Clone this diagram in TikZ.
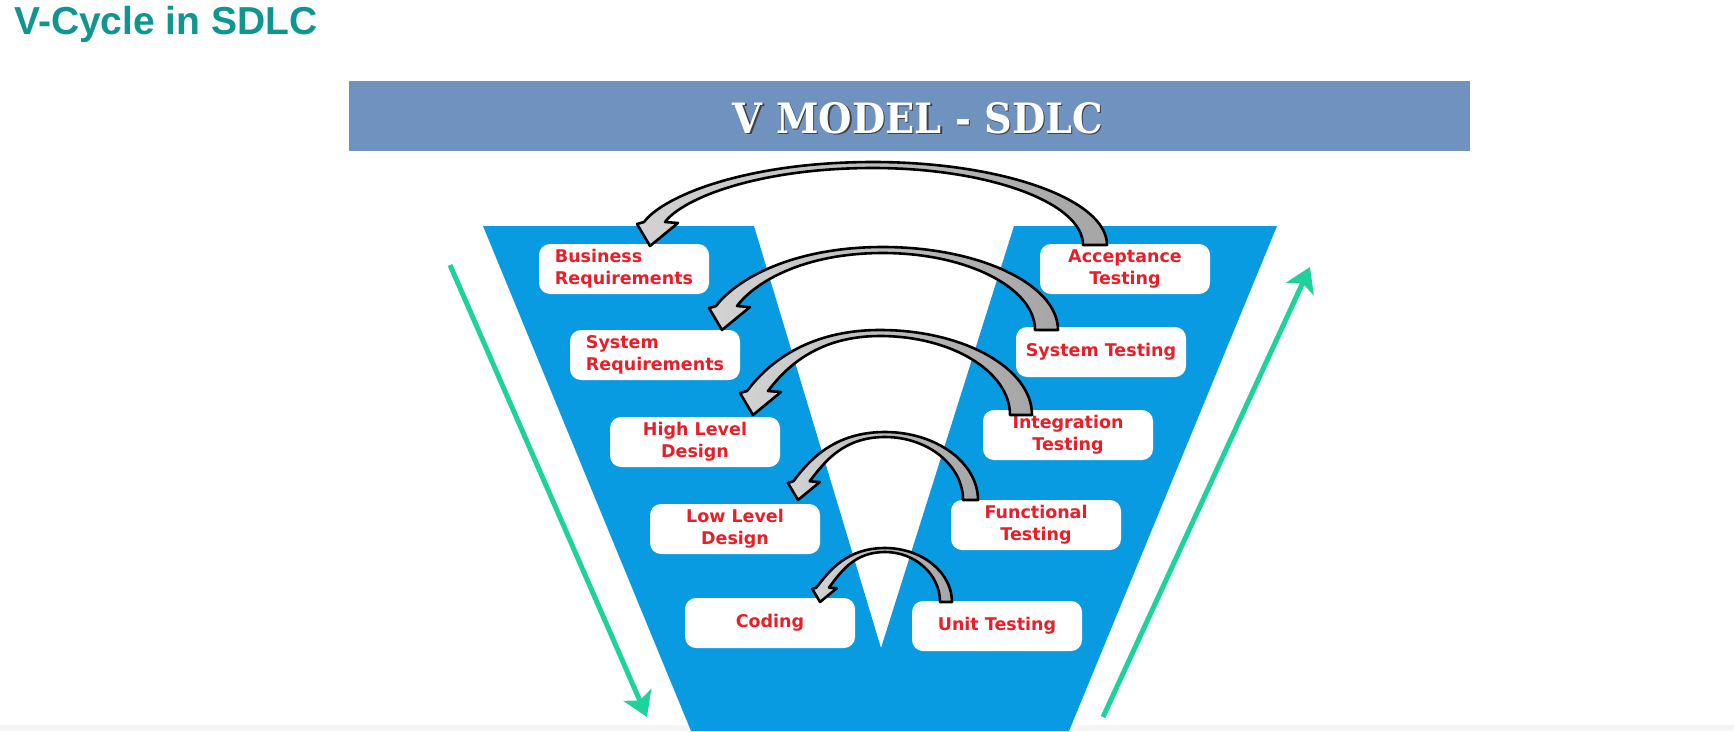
\documentclass[tikz,border=0pt]{standalone}
\usepackage{fontspec}
\usepackage{graphicx}
\usetikzlibrary{arrows.meta}
\newfontfamily\titlefont{Liberation Sans}
\newfontfamily\boxfont{DejaVu Sans}
\newfontfamily\bannerfont{DejaVu Serif}
\definecolor{titleteal}{RGB}{15,150,145}
\definecolor{bannerblue}{RGB}{112,146,190}
\definecolor{vblue}{RGB}{9,155,226}
\definecolor{boxred}{RGB}{232,30,40}
\definecolor{mint}{RGB}{30,210,155}
\tikzset{
  phasebox/.style={fill=white, rounded corners=11pt, minimum width=170pt, minimum height=50pt,
    inner sep=0pt, text=boxred, align=center,
    font=\boxfont\bfseries\fontsize{17.5}{22}\selectfont},
  grayarrow/.style={draw=black, line width=2.6pt, line join=round, left color=gray!35, right color=gray!70},
  greenarrow/.style={draw=mint, line width=5pt, -{Stealth[length=24pt,width=30pt,inset=6pt]}}
}
% #1 tail outer x, #2 tail inner x, #3 tail y, #4 apex x, #5 apex y, #6 tip x, #7 tip y, #8 head scale, #9 apex thickness
\newcommand{\garrow}[9]{%
 \pgfmathsetmacro{\gaOex}{#6-6*#8}%
 \pgfmathsetmacro{\gaOey}{#7-24*#8}%
 \pgfmathsetmacro{\gaIex}{#6+15*#8}%
 \pgfmathsetmacro{\gaIey}{#7-24*#8}%
 \pgfmathsetmacro{\gaAiy}{#5+#9}%
 \pgfmathsetmacro{\gaCA}{#3-0.55*(#3-#5)}%
 \pgfmathsetmacro{\gaCB}{#4+0.55*(#1-#4)}%
 \pgfmathsetmacro{\gaCC}{#4-0.55*(#4-\gaOex)}%
 \pgfmathsetmacro{\gaDD}{0.55*(\gaOey-#5)}%
 \pgfmathsetmacro{\gaCDx}{\gaOex+0.6*\gaDD}%
 \pgfmathsetmacro{\gaCDy}{\gaOey-0.8*\gaDD}%
 \pgfmathsetmacro{\gaDI}{0.55*(\gaIey-\gaAiy)}%
 \pgfmathsetmacro{\gaCEx}{\gaIex+0.6*\gaDI}%
 \pgfmathsetmacro{\gaCEy}{\gaIey-0.8*\gaDI}%
 \pgfmathsetmacro{\gaCF}{#4-0.55*(#4-\gaIex)}%
 \pgfmathsetmacro{\gaCG}{#4+0.55*(#2-#4)}%
 \pgfmathsetmacro{\gaCH}{#3-0.55*(#3-\gaAiy)}%
 \path[grayarrow] (#1,#3) .. controls (#1,\gaCA) and (\gaCB,#5) .. (#4,#5)
   .. controls (\gaCC,#5) and (\gaCDx,\gaCDy) .. (\gaOex,\gaOey)
   -- ({#6-13*#8},{#7-22*#8}) -- (#6,#7) -- ({#6+28*#8},{#7-23*#8}) -- (\gaIex,\gaIey)
   .. controls (\gaCEx,\gaCEy) and (\gaCF,\gaAiy) .. (#4,\gaAiy)
   .. controls (\gaCG,\gaAiy) and (#2,\gaCH) .. (#2,#3) -- cycle;
}
\begin{document}
\begin{tikzpicture}[x=1pt,y=-1pt]
\useasboundingbox (0,0) rectangle (1734,731);
\fill[white] (0,0) rectangle (1734,731);
\fill[gray!8] (0,725) rectangle (1734,731);

% title
\node[anchor=base west, inner sep=0pt, text=titleteal] (title) at (14,34)
  {\titlefont\bfseries\fontsize{39}{39}\selectfont V-Cycle in SDLC};

% banner
\fill[bannerblue] (349,81) rectangle (1470,151);
\node[anchor=base, inner sep=0pt, text=black!75] (bannershadow) at (919.5,134.5)
  {\resizebox{370pt}{31pt}{\bannerfont\bfseries V MODEL - SDLC}};
\node[anchor=base, inner sep=0pt, text=white] (banner) at (918,133)
  {\resizebox{370pt}{31pt}{\bannerfont\bfseries V MODEL - SDLC}};

% V shape
\fill[vblue] (483,226) -- (754,226) -- (881,648) -- (1014,226) -- (1277,226)
  -- (1069,731) -- (691,731) -- cycle;

% phase boxes
\node[phasebox, align=left] (biz) at (624,269) {Business\\Requirements};
\node[phasebox, align=left] (sysreq) at (655,355) {System\\Requirements};
\node[phasebox] (hld) at (695,442) {High Level\\Design};
\node[phasebox] (lld) at (735,529) {Low Level\\Design};
\node[phasebox] (coding) at (770,623) {Coding};
\node[phasebox] (acc) at (1125,269) {Acceptance\\Testing};
\node[phasebox] (systest) at (1101,352) {System Testing};
\node[phasebox] (integ) at (1068,435) {Integration\\Testing};
\node[phasebox] (func) at (1036,525) {Functional\\Testing};
\node[phasebox] (unit) at (997,626) {Unit Testing};

% curved gray arrows (testing -> corresponding phase)
\garrow{1107}{1083}{245}{873}{162}{650}{246}{1}{6}
\garrow{1058}{1035}{330}{883}{247}{722}{330}{1}{6}
\garrow{1032}{1010}{415}{880}{330}{753}{415}{1}{6}
\garrow{978}{963}{500}{885}{432}{798}{500}{0.78}{5}
\garrow{952}{940}{602}{885}{548}{820}{602}{0.6}{4}

% green arrows
\coordinate (gls) at (450,265);
\coordinate (gle) at (647,717);
\coordinate (grs) at (1103,717);
\coordinate (gre) at (1310,267);
\draw[greenarrow] (gls) -- (gle);
\draw[greenarrow] (grs) -- (gre);
\end{tikzpicture}
\end{document}
